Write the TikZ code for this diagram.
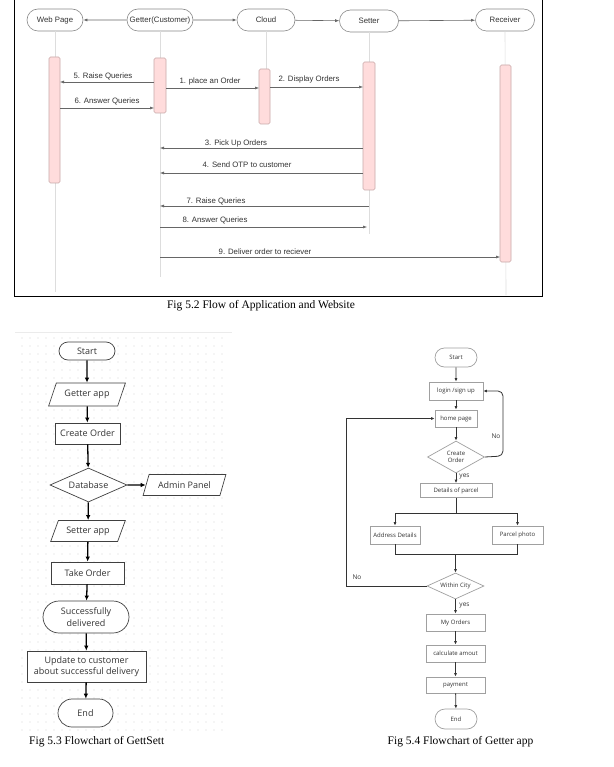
\documentclass[tikz,border=0pt]{standalone}
\usepackage{fontspec}
\setmainfont{Liberation Serif}
\newfontfamily\seqfont{Liberation Sans}
\newfontfamily\flowfont{Open Sans}
\usetikzlibrary{shapes.geometric,shapes.misc,arrows.meta}
\definecolor{barfill}{HTML}{FFDCDC}
\definecolor{barline}{HTML}{C9A9A9}
\definecolor{seqtext}{HTML}{333333}
\definecolor{headline}{HTML}{8A8A8A}
\definecolor{lifeline}{HTML}{DDDDDD}
\definecolor{msgline}{HTML}{666666}
\definecolor{flowtext}{HTML}{333333}
\definecolor{dotcol}{HTML}{D6D6D6}
\definecolor{boxline}{HTML}{A0A0A0}
\begin{document}
\begin{tikzpicture}[x=1pt,y=-1pt,
  seqf/.style={font=\seqfont\fontsize{7.8}{9}\selectfont, text=seqtext},
  head/.style={seqf, rounded rectangle, draw=headline, line width=0.6pt, fill=white,
     minimum height=22pt, inner sep=0pt},
  actbar/.style={draw=barline, fill=barfill, line width=0.6pt, rounded corners=1.5pt,
     minimum width=11pt, inner sep=0pt},
  life/.style={draw=lifeline, line width=0.6pt},
  msg/.style={draw=msgline, line width=0.5pt, -{Latex[length=4pt,width=3pt]}},
  hmsg/.style={draw=msgline, line width=0.6pt, -{Latex[length=4pt,width=3pt]}},
  lbl/.style={seqf, inner sep=0pt},
  capt/.style={font=\fontsize{11.5}{13}\selectfont, inner sep=0pt},
  lf/.style={font=\flowfont\fontsize{9}{11.5}\selectfont, text=flowtext, draw=black!75,
     line width=0.7pt, fill=white, inner sep=0pt, align=center},
  lftext/.style={font=\flowfont\fontsize{9}{11.5}\selectfont, text=flowtext, inner sep=0pt},
  lpill/.style={lf, rounded rectangle},
  lbox/.style={lf, rectangle},
  lpar/.style={lf, trapezium, trapezium stretches=true, trapezium left angle=57,
     trapezium right angle=123},
  ldia/.style={lf, diamond},
  larr/.style={draw=black, line width=1.3pt, -{Latex[length=5pt,width=4.5pt]}},
  rf/.style={font=\flowfont\fontsize{6}{7.5}\selectfont, text=flowtext, draw=boxline,
     line width=0.7pt, fill=white, inner sep=0pt, align=center},
  rftext/.style={font=\flowfont\fontsize{6}{7.5}\selectfont, text=flowtext, inner sep=0pt, align=center},
  rpill/.style={rf, rounded rectangle},
  rbox/.style={rf, rectangle},
  rdia/.style={rf, diamond},
  rline/.style={draw=black!80, line width=0.8pt},
  rarr/.style={rline, -{Latex[length=3.5pt,width=3pt]}},
  rlbl/.style={font=\flowfont\fontsize{6.5}{8}\selectfont, text=flowtext, inner sep=0pt}
]
\useasboundingbox (0,0) rectangle (613,767);
\fill[white] (0,0) rectangle (613,767);

% ================= Sequence diagram =================
\draw[black, line width=1pt] (14,-2) -- (14,296) -- (542,296) -- (542,-2);

\node[head, minimum width=56pt] (web) at (55,20) {Web Page};
\node[head, minimum width=66pt] (get) at (160,20) {Getter(Customer)};
\node[head, minimum width=58pt] (cld) at (266,20) {Cloud};
\node[head, minimum width=59pt] (set) at (369,21) {Setter};
\node[head, minimum width=59pt] (rcv) at (505,20) {Receiver};

\draw[hmsg] (get) -- (web);
\draw[hmsg] (get) -- (cld);
\draw[hmsg] (cld) -- (set);
\draw[hmsg] (set) -- (rcv);

% lifeline ends
\coordinate (webend) at (55,292);
\coordinate (getend) at (160,277);
\coordinate (setend) at (369,234);
\coordinate (rcvend) at (506,295);

\draw[life] (web.south) -- (webend);
\draw[life] (get.south) -- (getend);
\draw[life] (cld.south) -- (266,69);
\draw[life] (set.south) -- (setend);
\draw[life] (rcv.south) -- (rcvend);

\node[actbar, minimum height=126pt] (wbar) at (54.5,120) {};
\node[actbar, minimum height=55pt, minimum width=12pt] (gbar) at (160,85.5) {};
\node[actbar, minimum height=55pt] (cbar) at (264.5,96.5) {};
\node[actbar, minimum height=128pt, minimum width=12pt] (sbar) at (369,126) {};
\node[actbar, minimum height=197pt] (rbar) at (505.5,163.5) {};

% message end points
\coordinate (m1a) at (166,88);  \coordinate (m1b) at (259,88);
\coordinate (m2a) at (270,87);  \coordinate (m2b) at (363,87);
\coordinate (m5a) at (154,82);  \coordinate (m5b) at (60,82);
\coordinate (m6a) at (60,108);  \coordinate (m6b) at (154,108);
\coordinate (m3a) at (363,148); \coordinate (m3b) at (160,148);
\coordinate (m4a) at (363,173); \coordinate (m4b) at (160,173);
\coordinate (m7a) at (369,206); \coordinate (m7b) at (160,206);
\coordinate (m8a) at (160,227); \coordinate (m8b) at (367,227);
\coordinate (m9a) at (160,257); \coordinate (m9b) at (500,257);

\draw[msg] (m1a) -- (m1b);
\draw[msg] (m2a) -- (m2b);
\draw[msg] (m5a) -- (m5b);
\draw[msg] (m6a) -- (m6b);
\draw[msg] (m3a) -- (m3b);
\draw[msg] (m4a) -- (m4b);
\draw[msg] (m7a) -- (m7b);
\draw[msg] (m8a) -- (m8b);
\draw[msg] (m9a) -- (m9b);

\node[lbl] (l1) at (210,81) {1. place an Order};
\node[lbl] (l2) at (309,79) {2. Display Orders};
\node[lbl] (l5) at (103,76) {5. Raise Queries};
\node[lbl] (l6) at (107,101) {6. Answer Queries};
\node[lbl] (l3) at (236,143.5) {3. Pick Up Orders};
\node[lbl] (l4) at (247,165) {4. Send OTP to customer};
\node[lbl] (l7) at (216,201) {7. Raise Queries};
\node[lbl] (l8) at (215,220) {8. Answer Queries};
\node[lbl] (l9) at (265,252) {9. Deliver order to reciever};

\node[capt] (cap2) at (261,306) {Fig 5.2 Flow of Application and Website};

% ================= Left flowchart =================
\draw[black!8, line width=0.6pt] (15,332) -- (232,332);
\foreach \xx in {22,30,...,226} {
  \foreach \yy in {338,346,...,732} {
    \fill[dotcol] (\xx,\yy) circle (0.55pt);
  }
}

\node[lpill, minimum width=56pt, minimum height=18pt] (lstart) at (87,351) {Start};
\node[lpar, minimum width=77pt, minimum height=23pt] (lget) at (87,394.5) {Getter app};
\node[lbox, minimum width=65pt, minimum height=21pt] (lcre) at (87.5,433.5) {Create Order};
\node[ldia, minimum width=77pt, minimum height=34pt] (ldb) at (88.5,485) {};
\node[lftext] (ldbt) at (ldb) {Database};
\node[lpar, minimum width=83pt, minimum height=21pt] (ladm) at (184.5,485) {Admin Panel};
\node[lpar, minimum width=75pt, minimum height=21pt] (lset) at (88,531) {Setter app};
\node[lbox, minimum width=73pt, minimum height=22pt] (ltake) at (87.5,573) {Take Order};
\node[lpill, minimum width=86pt, minimum height=32pt] (lsucc) at (86,617) {Successfully\\delivered};
\node[lbox, minimum width=119pt, minimum height=31pt] (lupd) at (86.5,666.5) {Update to customer\\about successful delivery};
\node[lpill, minimum width=55pt, minimum height=28pt] (lend) at (85.5,713) {End};

\draw[larr] (lstart) -- (lget);
\draw[larr] (lget) -- (lcre);
\draw[larr] (lcre) -- (ldb);
\draw[larr] (ldb) -- (ladm);
\draw[larr] (ldb) -- (lset);
\draw[larr] (lset) -- (ltake);
\draw[larr] (ltake) -- (lsucc);
\draw[larr] (lsucc) -- (lupd);
\draw[larr] (lupd) -- (lend);

\node[capt, anchor=west] (cap3) at (29,742) {Fig 5.3 Flowchart of GettSett};

% ================= Right flowchart =================
\node[rpill, minimum width=42pt, minimum height=19pt] (rstart) at (456,357.5) {Start};
\node[rbox, minimum width=54pt, minimum height=18pt] (rlog) at (456,391) {login /sign up};
\node[rbox, minimum width=42pt, minimum height=17pt] (rhome) at (456,418.5) {home page};
\node[rdia, minimum width=57pt, minimum height=32pt] (rcre) at (456,457) {};
\node[rftext] (rcret) at (rcre) {Create\\Order};
\node[rbox, minimum width=72pt, minimum height=14pt] (rdet) at (456,490.5) {Details of parcel};
\node[rbox, minimum width=50pt, minimum height=18pt] (raddr) at (395,535) {Address Details};
\node[rbox, minimum width=51pt, minimum height=18pt] (rpho) at (517.5,535) {Parcel photo};
\node[rdia, minimum width=57pt, minimum height=26pt] (rcity) at (455.5,586) {};
\node[rftext] (rcityt) at (rcity) {Within City};
\node[rbox, minimum width=59pt, minimum height=17pt] (rord) at (455.5,622.5) {My Orders};
\node[rbox, minimum width=59pt, minimum height=17pt] (rcalc) at (455.5,653.5) {calculate amout};
\node[rbox, minimum width=59pt, minimum height=16pt] (rpay) at (455.5,685) {payment};
\node[rpill, minimum width=42pt, minimum height=20pt] (rend) at (456,719) {End};

\draw[rarr] (rstart) -- (rlog);
\draw[rarr] (rlog) -- (rhome);
\draw[rarr] (rhome) -- (rcre);
\draw[rarr] (rcre) -- (rdet);
\draw[rarr, rounded corners=5pt] (rcre.east) -- (503,456) -- (503,391) -- (rlog.east);
\node[rlbl] (rno1) at (496,436) {No};
\node[rlbl] (ryes1) at (464.5,477) {yes};

\coordinate (rsplit) at (456,513);
\coordinate (rjoin) at (455.5,554);
\draw[rline] (rdet) -- (rsplit);
\draw[rarr] (rsplit) -| (raddr.north);
\draw[rarr] (rsplit) -| (rpho.north);
\draw[rline] (raddr.south) |- (rjoin);
\draw[rline] (rpho.south) |- (rjoin);
\draw[rarr] (rjoin) -- (rcity);

\coordinate (rleft) at (346,586);
\draw[rarr] (rcity.west) -- (rleft) |- (rhome.west);
\node[rlbl] (rno2) at (357,577) {No};
\node[rlbl] (ryes2) at (464.5,606) {yes};

\draw[rarr] (rcity) -- (rord);
\draw[rarr] (rord) -- (rcalc);
\draw[rarr] (rcalc) -- (rpay);
\draw[rarr] (rpay) -- (rend);

\node[capt] (cap4) at (460.5,742) {Fig 5.4 Flowchart of Getter app};
\end{tikzpicture}
\end{document}
